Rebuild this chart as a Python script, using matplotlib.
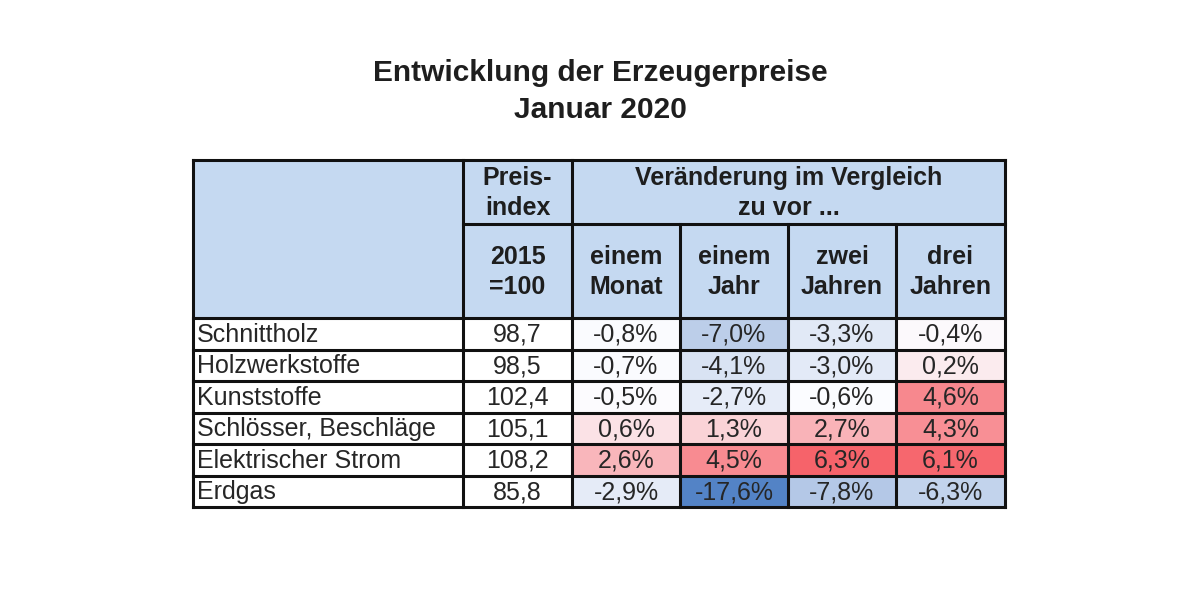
import numpy as np
import matplotlib
matplotlib.use("Agg")
import matplotlib.pyplot as plt
from matplotlib.patches import Rectangle
from matplotlib.colors import LinearSegmentedColormap, TwoSlopeNorm

# ---- data ----
title_lines = ["Entwicklung der Erzeugerpreise", "Januar 2020"]
categories = ["Schnittholz", "Holzwerkstoffe", "Kunststoffe",
              "Schlösser, Beschläge", "Elektrischer Strom", "Erdgas"]
index_values = [98.7, 98.5, 102.4, 105.1, 108.2, 85.8]
change_month = [-0.8, -0.7, -0.5, 0.6, 2.6, -2.9]
change_1y = [-7.0, -4.1, -2.7, 1.3, 4.5, -17.6]
change_2y = [-3.3, -3.0, -0.6, 2.7, 6.3, -7.8]
change_3y = [-0.4, 0.2, 4.6, 4.3, 6.1, -6.3]
index_header = "Preis-\nindex"
index_base = "2015\n=100"
group_header = "Veränderung im Vergleich\nzu vor ..."
period_labels = ["einem\nMonat", "einem\nJahr", "zwei\nJahren", "drei\nJahren"]

changes = np.array([change_month, change_1y, change_2y, change_3y]).T

# ---- style ----
FONT = "Liberation Sans"
HEAD_BG = "#c5d9f1"
TXT = "#1e1e1e"
LW = 2.2
col_edges = [193, 463, 572, 680, 788, 896, 1005]
row_edges = [160, 224, 318]
data_top, data_bottom = 318, 507
n = len(categories)
rh = (data_bottom - data_top) / n

cmap = LinearSegmentedColormap.from_list("excel3", ["#5383c6", "#fcfcff", "#f6636a"])
norm = TwoSlopeNorm(vmin=changes.min(), vcenter=np.median(changes), vmax=changes.max())

def fmt_num(v):
    return f"{v:.1f}".replace(".", ",")

fig = plt.figure(figsize=(12, 6), dpi=100)
ax = fig.add_axes([0, 0, 1, 1])
ax.set_xlim(0, 1200)
ax.set_ylim(600, 0)
ax.axis("off")

# title
ax.text(600, 73, title_lines[0], ha="center", va="center", fontsize=21.5,
        fontweight="bold", family=FONT, color=TXT)
ax.text(600, 110, title_lines[1], ha="center", va="center", fontsize=21.5,
        fontweight="bold", family=FONT, color=TXT)

# header backgrounds
ax.add_patch(Rectangle((col_edges[0], row_edges[0]), col_edges[-1] - col_edges[0],
                       row_edges[2] - row_edges[0], facecolor=HEAD_BG, edgecolor="none"))

hkw = dict(ha="center", va="center", fontsize=18, fontweight="bold", family=FONT,
           color=TXT, linespacing=1.3)
ax.text((col_edges[1] + col_edges[2]) / 2, (row_edges[0] + row_edges[1]) / 2 + 1, index_header, **hkw)
ax.text((col_edges[1] + col_edges[2]) / 2, (row_edges[1] + row_edges[2]) / 2 + 1, index_base, **hkw)
ax.text((col_edges[2] + col_edges[-1]) / 2, (row_edges[0] + row_edges[1]) / 2 + 1, group_header, **hkw)
for j, lab in enumerate(period_labels):
    ax.text((col_edges[2 + j] + col_edges[3 + j]) / 2, (row_edges[1] + row_edges[2]) / 2 + 1, lab, **hkw)

# data rows
dkw = dict(va="center", fontsize=18, family=FONT, color="#262626")
for i, cat in enumerate(categories):
    y0 = data_top + i * rh
    yc = y0 + rh / 2 + 1
    ax.add_patch(Rectangle((col_edges[0], y0), col_edges[2] - col_edges[0], rh,
                           facecolor="white", edgecolor="none"))
    ax.text(col_edges[0] + 4, yc, cat, ha="left", **dkw)
    ax.text((col_edges[1] + col_edges[2]) / 2, yc, fmt_num(index_values[i]), ha="center", **dkw)
    for j in range(changes.shape[1]):
        v = changes[i, j]
        ax.add_patch(Rectangle((col_edges[2 + j], y0), col_edges[3 + j] - col_edges[2 + j], rh,
                               facecolor=cmap(norm(v)), edgecolor="none"))
        ax.text((col_edges[2 + j] + col_edges[3 + j]) / 2, yc, fmt_num(v) + "%", ha="center", **dkw)

# grid lines
lkw = dict(color="#111111", linewidth=LW, solid_capstyle="projecting")
ax.plot([col_edges[0], col_edges[-1]], [row_edges[0]] * 2, **lkw)
ax.plot([col_edges[1], col_edges[-1]], [row_edges[1]] * 2, **lkw)
for k in range(n + 1):
    y = data_top + k * rh
    ax.plot([col_edges[0], col_edges[-1]], [y, y], **lkw)
ax.plot([col_edges[0]] * 2, [row_edges[0], data_bottom], **lkw)
ax.plot([col_edges[1]] * 2, [row_edges[0], data_bottom], **lkw)
ax.plot([col_edges[2]] * 2, [row_edges[0], data_bottom], **lkw)
for c in col_edges[3:-1]:
    ax.plot([c, c], [row_edges[1], data_bottom], **lkw)
ax.plot([col_edges[-1]] * 2, [row_edges[0], data_bottom], **lkw)

fig.savefig("out.png", dpi=100, facecolor="white")
